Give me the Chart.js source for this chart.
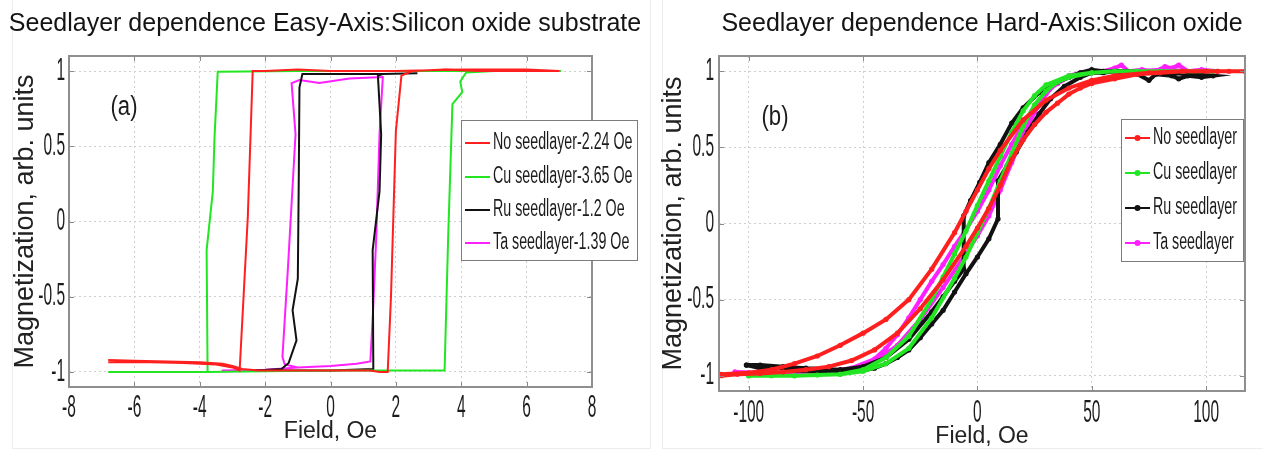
<!DOCTYPE html>
<html>
<head>
<meta charset="utf-8">
<title>Seedlayer dependence</title>
<script src="https://cdn.jsdelivr.net/npm/chart.js@4.4.1/dist/chart.umd.min.js"></script>
<style>
  html, body { margin: 0; padding: 0; background: #fff; overflow: hidden; }
  #wrap { position: relative; width: 1263px; height: 453px; }
  canvas { position: absolute; top: 0; }
  #easy { left: 0; }
  #hard { left: 650px; }
  .frame { position: absolute; top: 0; height: 448px; border: 1px solid #ededed; border-top: none; }
</style>
</head>
<body>
<div id="wrap">
  <div class="frame" style="left:12px;width:637px"></div>
  <div class="frame" style="left:662px;width:600px"></div>
  <canvas id="easy" width="650" height="453"></canvas>
  <canvas id="hard" width="613" height="453"></canvas>
</div>
<script>
// ---- tick labels ----
const easyFieldTicks = [-8, -6, -4, -2, 0, 2, 4, 6, 8];
const hardFieldTicks = [-100, -50, 0, 50, 100];
const magTicks = [-1, -0.5, 0, 0.5, 1];

// ---- (a) easy-axis loops, [field Oe, M] in sweep order ----
const easyNoSeed = [[-6.8,-0.92],[-6.0,-0.925],[-5.0,-0.93],[-4.0,-0.935],[-3.3,-0.945],[-3.0,-0.96],[-2.7,-0.98],[-2.2,-0.99],[-1.0,-0.99],[0.5,-0.99],[1.2,-0.99],[1.5,-1.0],[1.75,-1.0],[1.85,-0.5],[2.0,0.6],[2.17,0.97],[2.5,1.0],[3.5,1.01],[4.5,1.0],[5.5,1.0],[6.5,1.0],[7.0,1.0],[6.0,1.01],[4.0,1.01],[2.0,1.0],[0.0,1.0],[-1.0,1.01],[-2.0,1.0],[-2.38,1.0],[-2.53,0.03],[-2.78,-0.99],[-3.0,-0.97],[-3.5,-0.95],[-4.5,-0.94],[-5.5,-0.935],[-6.8,-0.935]];
const easyCu = [[-6.8,-1.0],[-5.0,-1.0],[-3.8,-1.0],[-2.0,-0.995],[0.0,-0.99],[2.0,-0.99],[3.49,-0.99],[3.6,-0.1],[3.73,0.78],[4.03,0.86],[3.97,0.93],[4.15,0.99],[5.0,1.0],[6.0,1.0],[7.05,1.0],[5.0,1.0],[3.0,1.0],[1.0,1.0],[-1.0,1.0],[-3.45,0.995],[-3.55,0.55],[-3.6,0.2],[-3.79,-0.19],[-3.76,-1.0]];
const easyRu = [[2.66,0.985],[1.6,0.98],[0.0,0.98],[-0.86,0.98],[-0.95,0.89],[-0.97,0.3],[-1.0,-0.38],[-1.16,-0.59],[-1.04,-0.79],[-1.28,-0.94],[-1.5,-0.98],[-2.3,-0.99],[-1.0,-0.99],[0.0,-0.99],[1.31,-0.98],[1.29,-0.19],[1.5,0.2],[1.55,0.58],[1.45,0.97],[1.6,0.98]];
const easyTa = [[-3.33,-0.99],[-2.0,-0.985],[-1.0,-0.97],[0.0,-0.96],[0.8,-0.945],[1.22,-0.93],[1.3,-0.6],[1.4,-0.1],[1.5,0.58],[1.6,0.96],[0.58,0.95],[-0.34,0.92],[-0.95,0.94],[-1.19,0.92],[-1.07,0.58],[-1.3,-0.3],[-1.47,-0.9],[-1.4,-0.95],[-1.0,-0.97]];

// ---- (b) hard-axis loops ----
const hardNoSeed = [[-112,-1.0],[-105,-0.99],[-95,-0.985],[-85,-0.975],[-75,-0.96],[-65,-0.94],[-55,-0.9],[-45,-0.83],[-35,-0.72],[-25,-0.56],[-15,-0.37],[-5,-0.15],[0,-0.03],[5,0.1],[10,0.25],[15,0.42],[20,0.55],[25,0.65],[30,0.73],[35,0.79],[40,0.85],[45,0.89],[50,0.92],[60,0.95],[70,0.98],[80,0.99],[90,1.0],[100,1.0],[110,1.0],[117,1.0],[105,1.0],[90,1.0],[75,0.99],[60,0.97],[50,0.94],[40,0.89],[30,0.81],[20,0.68],[10,0.48],[5,0.36],[0,0.22],[-5,0.08],[-10,-0.06],[-20,-0.3],[-30,-0.5],[-40,-0.63],[-50,-0.72],[-60,-0.8],[-70,-0.87],[-80,-0.92],[-90,-0.96],[-100,-0.98],[-112,-0.99]];
const hardCu = [[-100,-1.0],[-90,-1.0],[-80,-1.0],[-70,-0.995],[-60,-0.99],[-50,-0.97],[-40,-0.92],[-30,-0.82],[-20,-0.62],[-10,-0.36],[-5,-0.22],[0,-0.06],[5,0.1],[10,0.28],[15,0.46],[20,0.64],[25,0.78],[30,0.87],[35,0.93],[40,0.96],[50,0.99],[60,1.0],[70,1.0],[80,1.0],[90,1.0],[103,1.0],[90,1.0],[70,1.0],[60,1.0],[50,0.99],[40,0.97],[30,0.91],[25,0.84],[20,0.74],[15,0.6],[10,0.44],[5,0.28],[0,0.12],[-5,-0.05],[-10,-0.2],[-15,-0.35],[-20,-0.5],[-30,-0.74],[-40,-0.88],[-50,-0.96],[-60,-0.99],[-80,-1.0],[-100,-1.0]];
const hardRu = [[-101,-0.93],[-95,-0.95],[-90,-0.94],[-85,-0.95],[-80,-0.965],[-70,-0.97],[-60,-0.97],[-50,-0.965],[-45,-0.95],[-40,-0.92],[-35,-0.88],[-30,-0.83],[-25,-0.75],[-20,-0.66],[-15,-0.57],[-10,-0.45],[-5,-0.33],[0,-0.22],[5,-0.1],[9,0.03],[9,0.28],[13,0.38],[17,0.47],[22,0.6],[27,0.72],[32,0.82],[38,0.9],[45,0.96],[50,0.99],[55,0.99],[60,1.0],[65,0.99],[70,0.98],[75,0.94],[78,0.98],[85,0.97],[88,0.95],[92,0.97],[98,0.96],[103,0.97],[95,0.98],[80,0.99],[65,1.0],[55,1.0],[50,1.01],[45,0.99],[40,0.96],[35,0.93],[27,0.86],[20,0.76],[15,0.66],[10,0.52],[5,0.4],[1,0.27],[-3,0.15],[-6,0.05],[-6,-0.3],[-10,-0.38],[-15,-0.48],[-20,-0.58],[-30,-0.76],[-40,-0.88],[-50,-0.94],[-60,-0.96],[-75,-0.95],[-85,-0.94],[-95,-0.93],[-101,-0.93]];
const hardTa = [[-106,-0.98],[-95,-0.985],[-85,-0.98],[-75,-0.98],[-65,-0.975],[-55,-0.96],[-45,-0.91],[-35,-0.8],[-25,-0.63],[-15,-0.42],[-5,-0.2],[0,-0.08],[5,0.05],[10,0.22],[15,0.4],[20,0.58],[25,0.73],[30,0.85],[35,0.93],[40,0.97],[45,0.99],[50,1.0],[55,1.0],[60,1.02],[63,1.04],[66,1.0],[72,1.01],[78,1.0],[82,1.03],[85,1.02],[88,1.04],[92,1.0],[98,1.01],[105,1.0],[95,1.0],[80,1.01],[70,1.0],[60,1.0],[50,0.99],[45,0.98],[40,0.96],[35,0.92],[30,0.86],[25,0.77],[20,0.65],[15,0.52],[10,0.38],[5,0.22],[0,0.08],[-5,-0.04],[-10,-0.15],[-15,-0.27],[-20,-0.38],[-25,-0.5],[-30,-0.62],[-35,-0.73],[-40,-0.82],[-45,-0.89],[-55,-0.95],[-65,-0.97],[-80,-0.975],[-95,-0.98],[-106,-0.975]];

const easyLabels = ['No seedlayer-2.24 Oe', 'Cu seedlayer-3.65 Oe', 'Ru seedlayer-1.2 Oe', 'Ta seedlayer-1.39 Oe'];
const hardLabels = ['No seedlayer', 'Cu seedlayer', 'Ru seedlayer', 'Ta seedlayer'];
const seriesColors = ['#ff1f1f', '#22e622', '#111111', '#ff1fff'];

const FONT = '"Liberation Sans", Arial, sans-serif';
const toXY = pts => pts.map(([x, y]) => ({ x, y }));

// draws the boxed axes, inward ticks, squeezed tick labels, legend and panel tag
const boxedAxes = {
  id: 'boxedAxes',
  afterDatasetsDraw(chart, args, o) {
    const { ctx, chartArea: a } = chart;
    const xs = chart.scales.x, ys = chart.scales.y;
    ctx.save();
    ctx.strokeStyle = '#8a8a8a';
    ctx.lineWidth = 1;
    ctx.beginPath();
    xs.ticks.forEach(t => {
      const px = Math.round(xs.getPixelForValue(t.value)) + 0.5;
      ctx.moveTo(px, a.bottom); ctx.lineTo(px, a.bottom - 5);
      ctx.moveTo(px, a.top); ctx.lineTo(px, a.top + 5);
    });
    ys.ticks.forEach(t => {
      const py = Math.round(ys.getPixelForValue(t.value)) + 0.5;
      ctx.moveTo(a.left, py); ctx.lineTo(a.left + 5, py);
      ctx.moveTo(a.right, py); ctx.lineTo(a.right - 5, py);
    });
    ctx.stroke();
    ctx.lineWidth = 2;
    ctx.strokeStyle = '#8f8f8f';
    ctx.strokeRect(a.left, a.top, a.right - a.left, a.bottom - a.top);

    ctx.fillStyle = '#1c1c1c';
    ctx.font = '31px ' + FONT;
    ctx.textBaseline = 'middle';
    const squeezed = (txt, x, y, align, k) => {
      ctx.save();
      ctx.translate(x, y);
      ctx.scale(k, 1);
      ctx.textAlign = align;
      ctx.fillText(txt, 0, 0);
      ctx.restore();
    };
    xs.ticks.forEach(t => squeezed(String(t.value), xs.getPixelForValue(t.value), o.xTickY, 'center', 0.5));
    ys.ticks.forEach(t => squeezed(String(t.value), a.left - o.yTickGap, ys.getPixelForValue(t.value), 'right', 0.5));

    // panel tag
    ctx.font = '27px ' + FONT;
    squeezed(o.tag[0], o.tag[1], o.tag[2], 'center', 0.82);

    // legend
    const lg = o.legend;
    ctx.fillStyle = '#fff';
    ctx.fillRect(lg.box[0], lg.box[1], lg.box[2], lg.box[3]);
    ctx.strokeStyle = '#7c7c7c';
    ctx.lineWidth = 1;
    ctx.strokeRect(lg.box[0] + 0.5, lg.box[1] + 0.5, lg.box[2], lg.box[3]);
    ctx.font = '23px ' + FONT;
    chart.data.datasets.forEach((ds, i) => {
      const yy = lg.rows[i];
      ctx.strokeStyle = ds.borderColor;
      ctx.lineWidth = 2;
      ctx.beginPath();
      ctx.moveTo(lg.line[0], yy);
      ctx.lineTo(lg.line[1], yy);
      ctx.stroke();
      if (lg.marker) {
        ctx.fillStyle = ds.borderColor;
        ctx.beginPath();
        ctx.arc((lg.line[0] + lg.line[1]) / 2, yy, 3, 0, Math.PI * 2);
        ctx.fill();
      }
      ctx.fillStyle = '#1c1c1c';
      squeezed(ds.label, lg.textX, yy, 'left', lg.squeeze);
    });
    ctx.restore();
  }
};

function makeChart(id, p) {
  return new Chart(document.getElementById(id), {
    type: 'line',
    data: {
      datasets: p.series.map((pts, i) => ({
        label: p.labels[i],
        data: toXY(pts),
        borderColor: seriesColors[i],
        backgroundColor: seriesColors[i],
        borderWidth: p.lineWidth,
        pointRadius: p.pointRadius,
        pointBorderWidth: 0,
        tension: 0,
        fill: false
      }))
    },
    options: {
      responsive: false,
      animation: false,
      events: [],
      layout: { padding: 0 },
      plugins: {
        legend: { display: false },
        tooltip: { enabled: false },
        title: {
          display: true,
          text: p.title,
          fullSize: p.titleFull,
          color: '#141414',
          font: { family: FONT, size: 25, weight: 'normal' },
          padding: { top: 9, bottom: 17 }
        },
        boxedAxes: p.deco
      },
      scales: {
        x: {
          type: 'linear',
          min: p.xMin, max: p.xMax,
          afterBuildTicks: s => { s.ticks = p.xTicks.map(v => ({ value: v })); },
          afterFit: s => { s.height = p.xAxisH; },
          ticks: { display: false },
          grid: { color: '#cfcfcf', drawTicks: false },
          border: { display: false, dash: [2, 3] },
          title: { display: true, text: 'Field, Oe', color: '#222', font: { family: FONT, size: 23 }, padding: { top: 0, bottom: p.xTitlePad } }
        },
        y: {
          type: 'linear',
          min: -1.1, max: 1.1,
          afterBuildTicks: s => { s.ticks = magTicks.map(v => ({ value: v })); },
          afterFit: s => { s.width = 69; },
          ticks: { display: false },
          grid: { color: '#cfcfcf', drawTicks: false },
          border: { display: false, dash: [2, 3] },
          title: { display: true, text: 'Magnetization, arb. units', color: '#222', font: { family: FONT, size: 27 }, padding: { top: p.yTitlePad, bottom: 0 } }
        },
        // empty right-hand margin so the chart area ends where the box should
        margin: {
          type: 'linear',
          position: 'right',
          display: true,
          min: 0, max: 1,
          afterFit: s => { s.width = p.rightW; },
          ticks: { display: false },
          grid: { display: false, drawTicks: false },
          border: { display: false }
        }
      }
    },
    plugins: [boxedAxes]
  });
}

makeChart('easy', {
  title: 'Seedlayer dependence Easy-Axis:Silicon oxide substrate',
  titleFull: true,
  series: [easyNoSeed, easyCu, easyRu, easyTa],
  labels: easyLabels,
  lineWidth: 2, pointRadius: 0,
  xMin: -8, xMax: 8, xTicks: easyFieldTicks,
  rightW: 58, xAxisH: 66, xTitlePad: 8, yTitlePad: 9,
  deco: {
    xTickY: 408, yTickGap: 4,
    tag: ['(a)', 124, 108],
    legend: { box: [461, 120, 176, 140], rows: [143, 177, 210, 243], line: [465, 490], textX: 493, squeeze: 0.62, marker: false }
  }
});

makeChart('hard', {
  title: 'Seedlayer dependence Hard-Axis:Silicon oxide',
  titleFull: false,
  series: [hardNoSeed, hardCu, hardRu, hardTa],
  labels: hardLabels,
  lineWidth: 4, pointRadius: 2.6,
  xMin: -113, xMax: 117, xTicks: hardFieldTicks,
  rightW: 18, xAxisH: 62, xTitlePad: 3, yTitlePad: 7,
  deco: {
    xTickY: 413, yTickGap: 5,
    tag: ['(b)', 125, 118],
    legend: { box: [471, 119, 122, 142], rows: [138, 173, 208, 243], line: [475, 500], textX: 503, squeeze: 0.62, marker: true }
  }
});
</script>
</body>
</html>
